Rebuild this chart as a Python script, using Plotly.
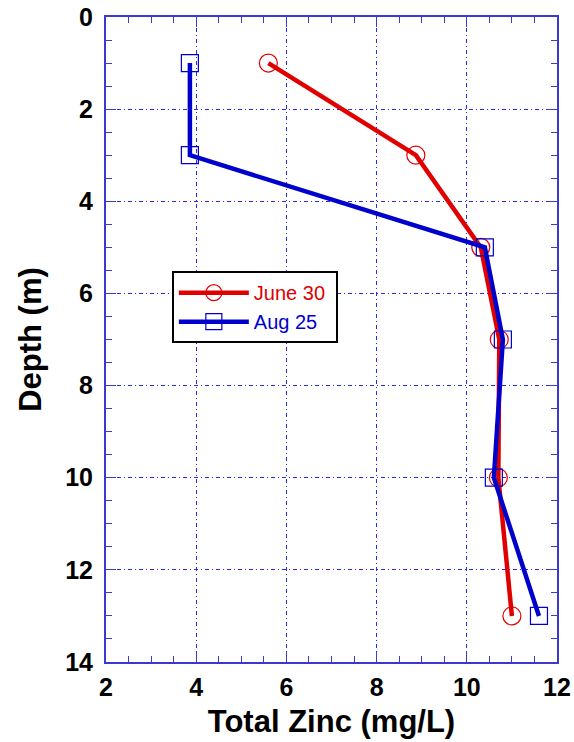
import plotly.graph_objects as go

depth = [1, 3, 5, 7, 10, 13]
june30 = [5.6, 8.87, 10.31, 10.72, 10.7, 11.0]
aug25 = [3.86, 3.86, 10.4, 10.8, 10.6, 11.6]

RED = "#e00000"
BLUE = "#0000cc"
AXC = "#3a3ad0"
GRID = "#2a2aee"
FONT = "Liberation Sans, Arial"

fig = go.Figure()
fig.add_trace(go.Scatter(
    x=june30, y=depth, mode="lines+markers",
    name="<span style='color:#e00000'>June 30</span>&nbsp;",
    line=dict(color=RED, width=4.5),
    marker=dict(symbol="circle-open", size=18, color=RED, line=dict(width=1.2, color=RED)),
))
fig.add_trace(go.Scatter(
    x=aug25, y=depth, mode="lines+markers",
    name="<span style='color:#0000cc'>Aug 25</span>",
    line=dict(color=BLUE, width=4.5),
    marker=dict(symbol="square-open", size=17, color=BLUE, line=dict(width=1.2, color=BLUE)),
))

axis_common = dict(
    showline=True, linecolor=AXC, linewidth=2, mirror="ticks",
    ticks="inside", ticklen=10, tickcolor=AXC, tickwidth=1,
    showgrid=True, gridcolor=GRID, griddash="4px,3px,1px,3px", gridwidth=1,
    zeroline=False, automargin=False,
    tickfont=dict(family=FONT, size=25, color="black", weight="bold"),
    title_font=dict(family=FONT, size=31, color="black", weight="bold"),
    minor=dict(ticks="inside", ticklen=6, tickcolor=AXC, dtick=0.5, showgrid=False),
)

fig.update_xaxes(range=[2, 12], dtick=2, title_text="Total Zinc (mg/L)",
                 title_standoff=10, ticklabelstandoff=2, **axis_common)
fig.update_yaxes(range=[14, 0], dtick=2, title_text="Depth (m)",
                 title_standoff=14, ticklabelstandoff=6, **axis_common)

fig.update_layout(
    width=574, height=742,
    margin=dict(l=106, r=17, t=17, b=80),
    plot_bgcolor="white", paper_bgcolor="white",
    legend=dict(
        x=0.146, y=0.606, xanchor="left", yanchor="top",
        bgcolor="white", bordercolor="black", borderwidth=2,
        font=dict(family=FONT, size=20),
        itemwidth=70, tracegroupgap=0,
    ),
    showlegend=True,
)

fig.write_html("out.html")
